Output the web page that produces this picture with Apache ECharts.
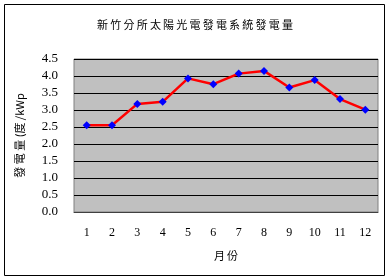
<!DOCTYPE html>
<html>
<head>
<meta charset="utf-8">
<script src="https://cdn.jsdelivr.net/npm/echarts@6/dist/echarts.min.js"></script>
<style>
  html, body { margin: 0; padding: 0; background: #fff; }
  #chart { width: 390px; height: 280px; }
</style>
</head>
<body>
<div id="chart"></div>
<script>
  // 月份與每月發電量 (度/kWp)
  const months = ['1', '2', '3', '4', '5', '6', '7', '8', '9', '10', '11', '12'];
  const energy = [2.55, 2.55, 3.18, 3.24, 3.93, 3.76, 4.07, 4.15, 3.66, 3.88, 3.32, 3.01];
  const yTicks = [0, 0.5, 1.0, 1.5, 2.0, 2.5, 3.0, 3.5, 4.0, 4.5];

  const serif = '"Liberation Serif", "Noto Sans CJK TC", serif';
  const cjk = '"Noto Sans CJK TC", serif';
  // 原圖字距較寬
  const spaced = s => s.split('').join('\u2009');

  const chart = echarts.init(document.getElementById('chart'));
  const option = {
      animation: false,
      title: {
          text: spaced('新竹分所太陽光電發電系統發電量'),
          left: 'center',
          top: 14,
          textStyle: { fontFamily: cjk, fontSize: 11, fontWeight: 'normal', color: '#000' }
      },
      graphic: [{
          type: 'rect',
          shape: { x: 4.5, y: 4.5, width: 380, height: 271 },
          style: { fill: 'none', stroke: '#000', lineWidth: 1 },
          silent: true
      }],
      grid: {
          left: 74, right: 12, top: 59, bottom: 68,
          show: true,
          backgroundColor: '#C0C0C0',
          borderColor: '#808080',
          borderWidth: 1
      },
      xAxis: {
          type: 'category',
          data: months,
          name: spaced('月份'),
          nameLocation: 'middle',
          nameGap: 38,
          nameTextStyle: { fontFamily: cjk, fontSize: 11, color: '#000' },
          axisLine: { lineStyle: { color: '#404040', width: 1 } },
          axisTick: { inside: true, length: 4, lineStyle: { color: '#000' } },
          axisLabel: { fontFamily: serif, fontSize: 12, color: '#000', margin: 15 }
      },
      yAxis: {
          type: 'value',
          min: 0,
          max: 4.5,
          interval: 0.5,
          name: '發 電 量 (度 /kWp',
          nameLocation: 'middle',
          nameRotate: 90,
          nameGap: 49,
          nameTextStyle: { fontFamily: cjk, fontSize: 11, color: '#000' },
          axisLine: { show: false },
          axisTick: { show: false },
          axisLabel: {
              fontFamily: serif, fontSize: 13, color: '#000', margin: 16,
              formatter: v => yTicks.includes(v) ? v.toFixed(1) : ''
          },
          splitLine: { lineStyle: { color: '#000', width: 1 } }
      },
      series: [{
          name: '發電量',
          type: 'line',
          data: energy,
          symbol: 'diamond',
          symbolSize: 8,
          lineStyle: { color: '#FF0000', width: 2.5 },
          itemStyle: { color: '#0000FF' }
      }]
  };
  chart.setOption(option);
</script>
</body>
</html>
